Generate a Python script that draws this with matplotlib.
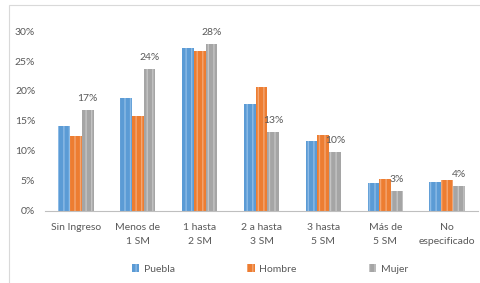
import matplotlib
matplotlib.use("Agg")
import matplotlib.pyplot as plt
import numpy as np
from matplotlib.patches import Rectangle

categories = ["Sin Ingreso", "Menos de\n1 SM", "1 hasta\n2 SM", "2 a hasta\n3 SM",
              "3 hasta\n5 SM", "Más de\n5 SM", "No\nespecificado"]
puebla = [14.2, 18.9, 27.1, 17.8, 11.7, 4.6, 4.8]
hombre = [12.5, 15.9, 26.6, 20.6, 12.7, 5.4, 5.1]
mujer = [16.8, 23.6, 27.9, 13.2, 9.8, 3.4, 4.2]
yticks = [0, 5, 10, 15, 20, 25, 30]

TEXT = "#595959"
plt.rcParams["font.family"] = ["Lato", "DejaVu Sans"]

W, H = 481, 283
fig = plt.figure(figsize=(W / 100, H / 100), dpi=100)
fig.patches.append(Rectangle((9 / W, -0.1), 1.2, 1.1 - 5 / H, transform=fig.transFigure,
                             fill=False, edgecolor="#d9d9d9", linewidth=0.8))
ax = fig.add_axes([45 / W, (H - 211) / H, (478 - 45) / W, 180 / H])

x = np.arange(len(categories))
w = 0.19
series = [("Puebla", puebla, "#5b9bd5", "#8dbbe6"),
          ("Hombre", hombre, "#ed7d31", "#f3a673"),
          ("Mujer", mujer, "#a5a5a5", "#c4c4c4")]
for i, (name, vals, color, light) in enumerate(series):
    ax.bar(x + (i - 1) * w, vals, w, color=color, edgecolor=light, linewidth=0,
           hatch="|||", label=name)

for xi, v in zip(x + w, mujer):
    ax.annotate(f"{round(v)}%", (xi, v), xytext=(0, 5), textcoords="offset points",
                ha="center", va="bottom", fontsize=7.5, color=TEXT)

ax.set_xlim(-0.5, len(categories) - 0.5)
ax.set_ylim(0, 30)
ax.set_yticks(yticks)
ax.set_yticklabels([f"{t}%" for t in yticks])
ax.set_xticks(x)
ax.set_xticklabels(categories, linespacing=1.6)
ax.tick_params(length=0, labelsize=7.5, labelcolor=TEXT)
ax.tick_params(axis="x", pad=9)
ax.tick_params(axis="y", pad=7)
for s in ["top", "right", "left"]:
    ax.spines[s].set_visible(False)
ax.spines["bottom"].set_color("#bfbfbf")
ax.spines["bottom"].set_linewidth(0.8)

handles, labels = ax.get_legend_handles_labels()
fig.legend(handles, labels, loc="center", bbox_to_anchor=(270 / W, (H - 269) / H),
           ncol=3, frameon=False, fontsize=7.5, labelcolor=TEXT, handlelength=0.7,
           handleheight=0.7, handletextpad=0.4, columnspacing=7)

fig.savefig("out.png", dpi=100)
